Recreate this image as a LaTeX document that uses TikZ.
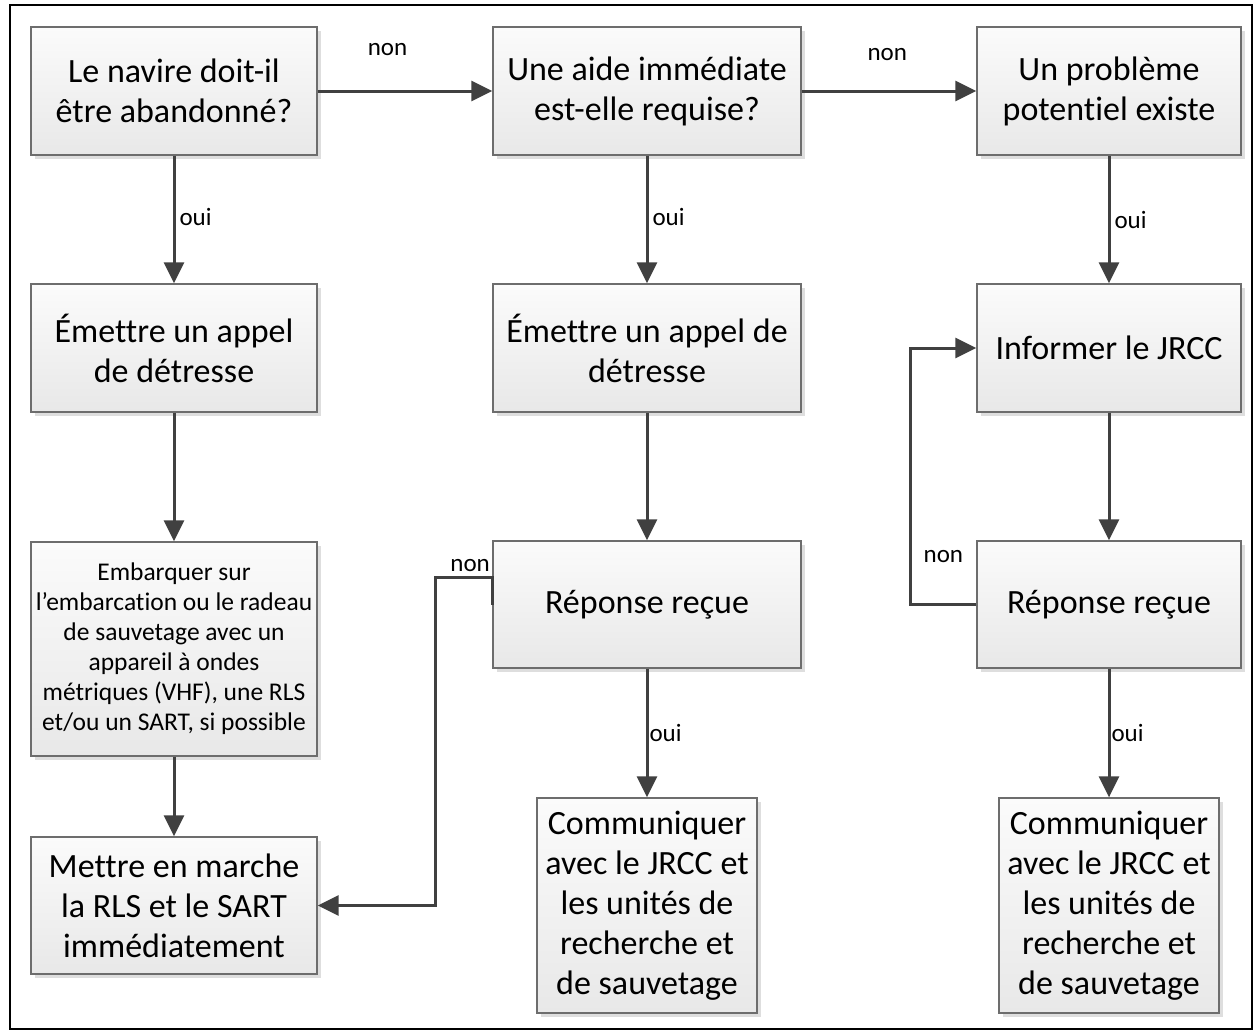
\documentclass[tikz,border=0pt]{standalone}
\usepackage{fontspec}
\setmainfont{Carlito}[Ligatures={NoCommon}]
\usetikzlibrary{arrows.meta,shadows}
\definecolor{boxline}{HTML}{6D6D6D}
\definecolor{boxtop}{HTML}{FBFBFB}
\definecolor{boxbot}{HTML}{E8E8E8}
\definecolor{boxshade}{HTML}{DEDEDE}
\definecolor{linkgray}{HTML}{404040}
\tikzset{
    box/.style={draw=boxline,line width=1.3pt,top color=boxtop,bottom color=boxbot,
        drop shadow={opacity=1,fill=boxshade,shadow xshift=4pt,shadow yshift=-4pt},
        align=center,inner sep=2pt,font=\fontsize{34}{40}\selectfont},
    smallbox/.style={box,font=\fontsize{25.5}{30}\selectfont},
    link/.style={draw=linkgray,line width=3pt,-{Triangle[length=21pt,width=20pt]}},
    lab/.style={font=\fontsize{25}{28}\selectfont,inner sep=1pt}
}

\begin{document}
\begin{tikzpicture}[x=1pt,y=-1pt]
            \useasboundingbox (0,0) rectangle (1256,1036);
            \draw[line width=2pt] (10,5) rectangle (1252,1029);
            \node[box,minimum width=286pt,minimum height=128pt] (q1) at (174,91) {Le navire doit-il\\être abandonné?};
            \node[box,minimum width=308pt,minimum height=128pt] (q2) at (647,91) {Une aide immédiate\\est-elle requise?};
            \node[box,minimum width=264pt,minimum height=128pt] (q3) at (1109,91) {Un problème\\potentiel existe};
            \node[box,minimum width=286pt,minimum height=128pt] (a1) at (174,348) {Émettre un appel\\de détresse};
            \node[box,minimum width=308pt,minimum height=128pt] (a2) at (647,348) {Émettre un appel de\\détresse};
            \node[box,minimum width=264pt,minimum height=128pt] (inf) at (1109,348) {Informer le JRCC};
            \node[smallbox,minimum width=286pt,minimum height=214pt] (emb) at (174,649) {Embarquer sur\\l’embarcation ou le radeau\\de sauvetage avec un\\appareil à ondes\\métriques (VHF), une RLS\\et/ou un SART, si possible};
            \node[box,minimum width=308pt,minimum height=127pt] (rep2) at (647,604.5) {Réponse reçue};
            \node[box,minimum width=264pt,minimum height=127pt] (rep3) at (1109,604.5) {Réponse reçue};
            \node[box,minimum width=286pt,minimum height=137pt] (mett) at (174,905.5) {Mettre en marche\\la RLS et le SART\\immédiatement};
            \foreach \i in {2,3}{
                \node[box,minimum width=220pt,minimum height=215pt] (com\i) at ({\i==2 ? 647 : 1109},905.5) {Communiquer\\avec le JRCC et\\les unités de\\recherche et\\de sauvetage};
            }
            \draw[link] (q1) -- node[lab,pos=0.4,yshift=41pt]{non} (q2);
            \draw[link] (q2) -- node[lab,pos=0.49,yshift=36pt]{non} (q3);
            \draw[link] (q1) -- node[lab,pos=0.48,right=3pt]{oui} (a1);
            \draw[link] (q2) -- node[lab,pos=0.48,right=3pt]{oui} (a2);
            \draw[link] (q3) -- node[lab,pos=0.5,right=3pt]{oui} (inf);
            \draw[link] (rep2) -- node[lab,pos=0.5,right=0pt]{oui} (com2);
            \draw[link] (rep3) -- node[lab,pos=0.5,right=0pt]{oui} (com3);
            \foreach \a/\b in {a1/emb,emb/mett,a2/rep2,inf/rep3}
                \draw[link] (\a) -- (\b);
            \draw[link] (rep2.west) -- ([yshift=27.5pt]rep2.west) node[lab,above left,yshift=3pt]{non} -| ([xshift=118pt]mett.east) -- (mett.east);
            \draw[link] (rep3.west) -- node[lab,yshift=48pt]{non} ++(-66,0) |- (inf.west);
        \end{tikzpicture}
\end{document}
